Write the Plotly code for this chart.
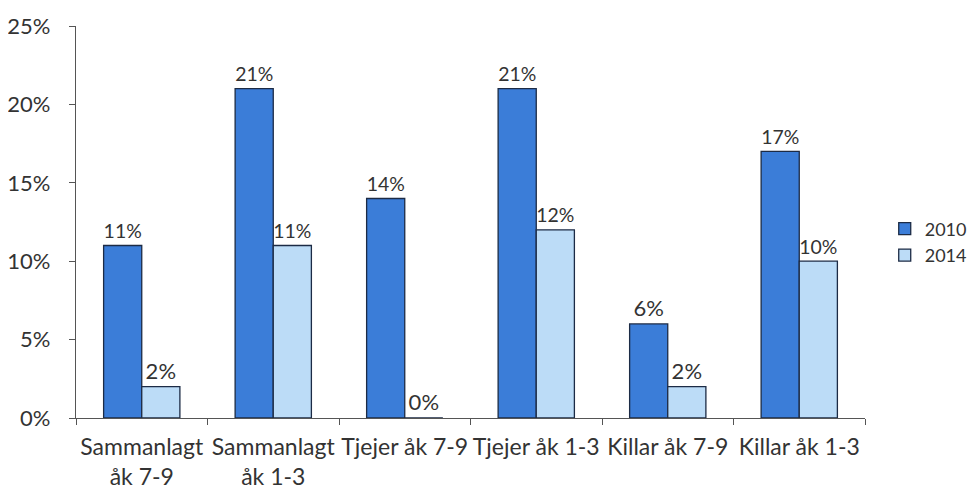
import plotly.graph_objects as go

categories = ["Sammanlagt<br>åk 7-9", "Sammanlagt<br>åk 1-3", "Tjejer åk 7-9",
              "Tjejer åk 1-3", "Killar åk 7-9", "Killar åk 1-3"]
values_2010 = [11, 21, 14, 21, 6, 17]
values_2014 = [2, 11, 0, 12, 2, 10]
y_ticks = [0, 5, 10, 15, 20, 25]
y_tick_labels = ["0%", "5%", "10%", "15%", "20%", "25%"]

FONT = "Lato, Open Sans, sans-serif"
TXT = "#333333"
FS = 22

fig = go.Figure()
fig.add_trace(go.Bar(
    name="2010", x=categories, y=values_2010,
    marker=dict(color="#3b7dd8", line=dict(color="#1c2b45", width=1.3)),
    text=[f"{v}%" for v in values_2010], textposition="outside",
    textfont=dict(size=FS, color=TXT, family=FONT), cliponaxis=False,
))
fig.add_trace(go.Bar(
    name="2014", x=categories, y=values_2014,
    marker=dict(color="#bcdcf7", line=dict(color="#1c2b45", width=1.3)),
    text=[f"{v}%" for v in values_2014], textposition="outside",
    textfont=dict(size=FS, color=TXT, family=FONT), cliponaxis=False,
))

fig.update_layout(
    width=976, height=491,
    margin=dict(l=68, r=119, t=18, b=81, autoexpand=False),
    paper_bgcolor="white", plot_bgcolor="white",
    barmode="group", bargap=0.42, bargroupgap=0,
    font=dict(family=FONT, size=FS, color=TXT),
    showlegend=True,
    legend=dict(x=1.025, y=0.449, yanchor="middle", xanchor="left",
                font=dict(size=18, color=TXT), tracegroupgap=0,
                itemwidth=30, bgcolor="rgba(0,0,0,0)"),
    xaxis=dict(showline=True, linecolor="#555555", linewidth=1.3,
               ticks="outside", tickson="boundaries", ticklen=6,
               tickcolor="#555555", showgrid=False, automargin=False,
               tickangle=0, ticklabelstandoff=8,
               tickfont=dict(size=23, color=TXT, family=FONT)),
    yaxis=dict(range=[0, 25], tickvals=y_ticks, ticktext=y_tick_labels,
               showline=True, linecolor="#555555", linewidth=1.3,
               ticks="outside", ticklen=6, tickcolor="#555555",
               showgrid=False, zeroline=False, automargin=False,
               ticklabelstandoff=14,
               tickfont=dict(size=FS, color=TXT, family=FONT)),
)

fig.write_html("out.html")
